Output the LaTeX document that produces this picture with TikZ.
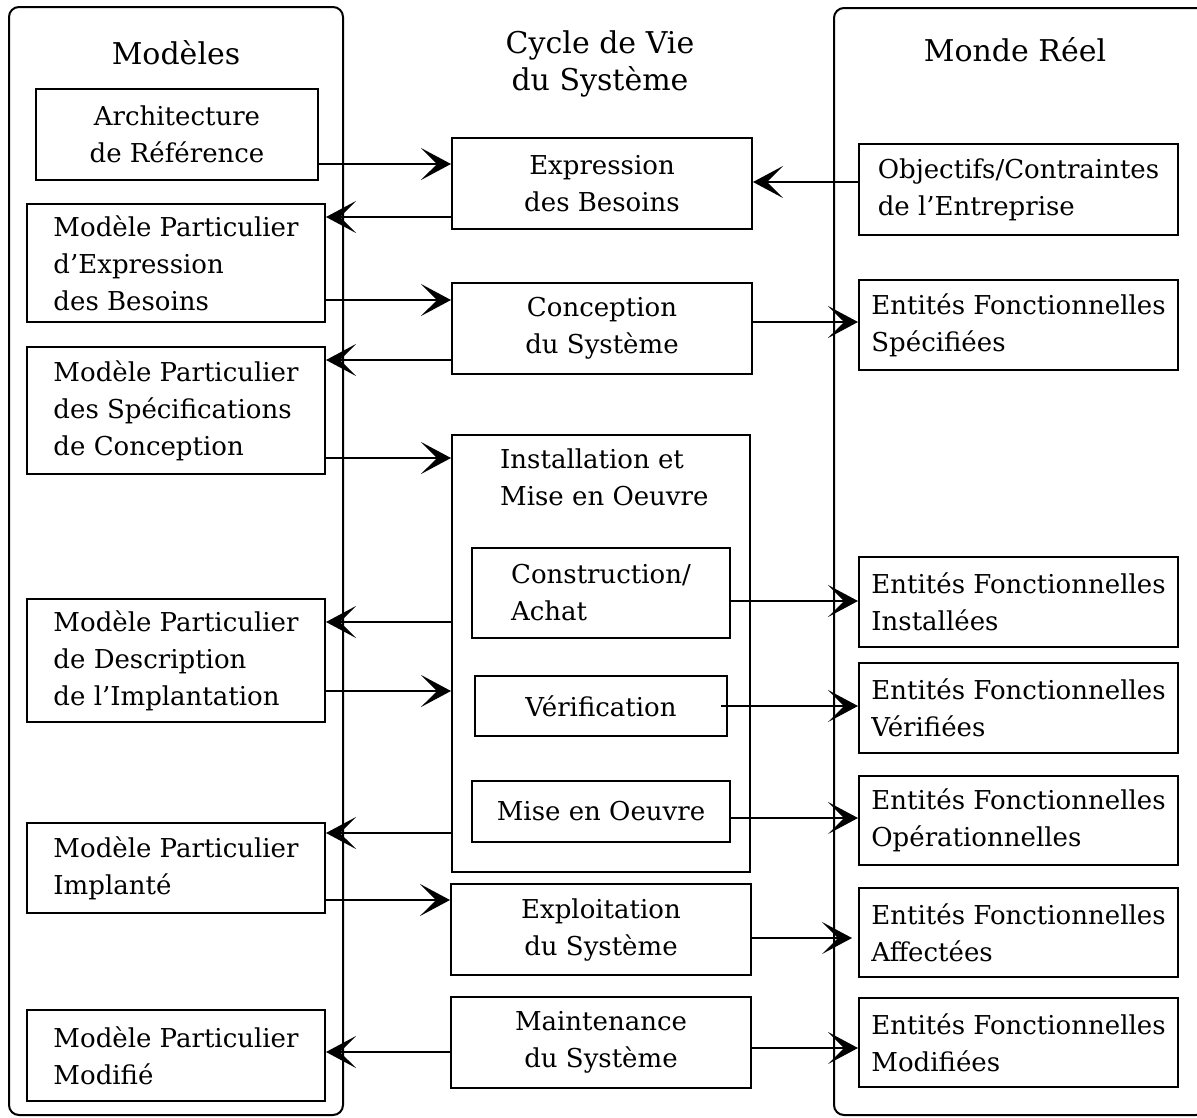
\documentclass[tikz,border=0pt]{standalone}
\usepackage{fontspec}
\setmainfont{DejaVu Serif}
\usepackage{tikz}
\usetikzlibrary{arrows.meta,positioning}
\tikzset{%
	frame/.style    = {draw, line width=2pt, rounded corners=10pt}, % column frame
	box/.style      = {draw, rectangle, line width=2pt, align=left, inner sep=0pt,
	                   font=\fontsize{26}{37}\selectfont},
	mbox/.style     = {box, minimum width=298pt}, % left column
	cbox/.style     = {box, minimum width=300pt, align=center}, % middle column
	rbox/.style     = {box, minimum width=319pt}, % right column
	head/.style     = {align=center, font=\fontsize{30}{37}\selectfont},
	conn/.style     = {line width=2pt, -{Stealth[length=30pt,width=32pt,inset=16pt]}},
}

\begin{document}
\begin{tikzpicture}[x=1pt,y=-1pt,node distance=100pt]
	\useasboundingbox (0,0) rectangle (1197,1117);
	% frames
	\draw[frame] (9,7) rectangle (343,1115);
	\draw[frame] (834,8) rectangle (1206,1115);
	
	% titles
	\node [head] (tmod) at (176,53) {Modèles};
	\node [head] (tcyc) at (600,64) {Cycle de Vie\\du Système};
	\node [head] (treel) at (1015,50) {Monde Réel};
	
	% left column
	\node [mbox,minimum width=282pt,minimum height=91pt,align=center] (arch) at (177,134.5) {Architecture\\de Référence};
	\node [mbox,minimum height=118pt] (mexp) at (176,263) {Modèle Particulier\\d'Expression\\des Besoins};
	\node [mbox,minimum height=127pt] (mspec) [below of=mexp,node distance=147.5pt] {Modèle Particulier\\des Spécifications\\de Conception};
	\node [mbox,minimum height=123pt] (mdesc) [below of=mspec,node distance=250pt] {Modèle Particulier\\de Description\\de l'Implantation};
	\node [mbox,minimum height=90pt] (mimpl) [below of=mdesc,node distance=207.5pt] {Modèle Particulier\\Implanté};
	\node [mbox,minimum height=91pt] (mmod) [below of=mimpl,node distance=187.5pt] {Modèle Particulier\\Modifié};
	
	% middle column
	\node [cbox,minimum height=91pt] (expr) at (602,183.5) {Expression\\des Besoins};
	\node [cbox,minimum height=91pt] (conc) [below of=expr,node distance=145pt] {Conception\\du Système};
	\node [cbox,minimum width=298pt,minimum height=437pt] (inst) at (601,653.5) {};
	\node [align=left,anchor=north west,font=\fontsize{26}{37}\selectfont,inner sep=0pt] (insttxt) at (500,449) {Installation et\\Mise en Oeuvre};
	\node [box,minimum width=258pt,minimum height=90pt] (constr) at (601,593) {Construction/\\Achat};
	\node [box,minimum width=252pt,minimum height=60pt] (verif) [below of=constr,node distance=113pt] {Vérification};
	\node [box,minimum width=258pt,minimum height=61pt] (mise) [below of=verif,node distance=105.5pt] {Mise en Oeuvre};
	\node [cbox,minimum height=91pt] (expl) at (601,929.5) {Exploitation\\du Système};
	\node [cbox,minimum height=91pt] (maint) [below of=expl,node distance=113pt] {Maintenance\\du Système};
	
	% right column
	\node [rbox,minimum height=91pt] (obj) at (1018.5,189.5) {Objectifs/Contraintes\\de l'Entreprise};
	\node [rbox,minimum height=90pt] (espec) [below of=obj,node distance=135.5pt] {Entités Fonctionnelles\\Spécifiées};
	\node [rbox,minimum height=90pt] (einst) [below of=espec,node distance=277pt] {Entités Fonctionnelles\\Installées};
	\node [rbox,minimum height=90pt] (everif) [below of=einst,node distance=106pt] {Entités Fonctionnelles\\Vérifiées};
	\node [rbox,minimum height=89pt] (eoper) [below of=everif,node distance=112.5pt] {Entités Fonctionnelles\\Opérationnelles};
	\node [rbox,minimum height=89pt] (eaff) [below of=eoper,node distance=112pt] {Entités Fonctionnelles\\Affectées};
	\node [rbox,minimum height=89pt] (emod) [below of=eaff,node distance=110pt] {Entités Fonctionnelles\\Modifiées};
	
	% connectors
	\draw[conn] (arch.east |- 0,164) -- (expr.west |- 0,164);
	\draw[conn] (expr.west |- 0,217) -- (mexp.east |- 0,217);
	\draw[conn] (obj.west |- 0,182) -- (expr.east |- 0,182);
	\draw[conn] (mexp.east |- 0,300) -- (conc.west |- 0,300);
	\draw[conn] (conc.west |- 0,360) -- (mspec.east |- 0,360);
	\draw[conn] (conc.east |- 0,322) -- (espec.west |- 0,322);
	\draw[conn] (mspec.east |- 0,458) -- (inst.west |- 0,458);
	\draw[conn] (inst.west |- 0,622) -- (mdesc.east |- 0,622);
	\draw[conn] (mdesc.east |- 0,691) -- (inst.west |- 0,691);
	\draw[conn] (constr.east |- 0,601) -- (einst.west |- 0,601);
	\draw[conn] ([xshift=-7pt]verif.east |- 0,706) -- (everif.west |- 0,706);
	\draw[conn] (mise.east |- 0,818) -- (eoper.west |- 0,818);
	\draw[conn] (inst.west |- 0,833) -- (mimpl.east |- 0,833);
	\draw[conn] (mimpl.east |- 0,900) -- (expl.west |- 0,900);
	\draw[conn] (expl.east |- 0,938) -- ([xshift=-6pt]eaff.west |- 0,938);
	\draw[conn] (maint.west |- 0,1052) -- (mmod.east |- 0,1052);
	\draw[conn] (maint.east |- 0,1048) -- (emod.west |- 0,1048);
\end{tikzpicture}
\end{document}
